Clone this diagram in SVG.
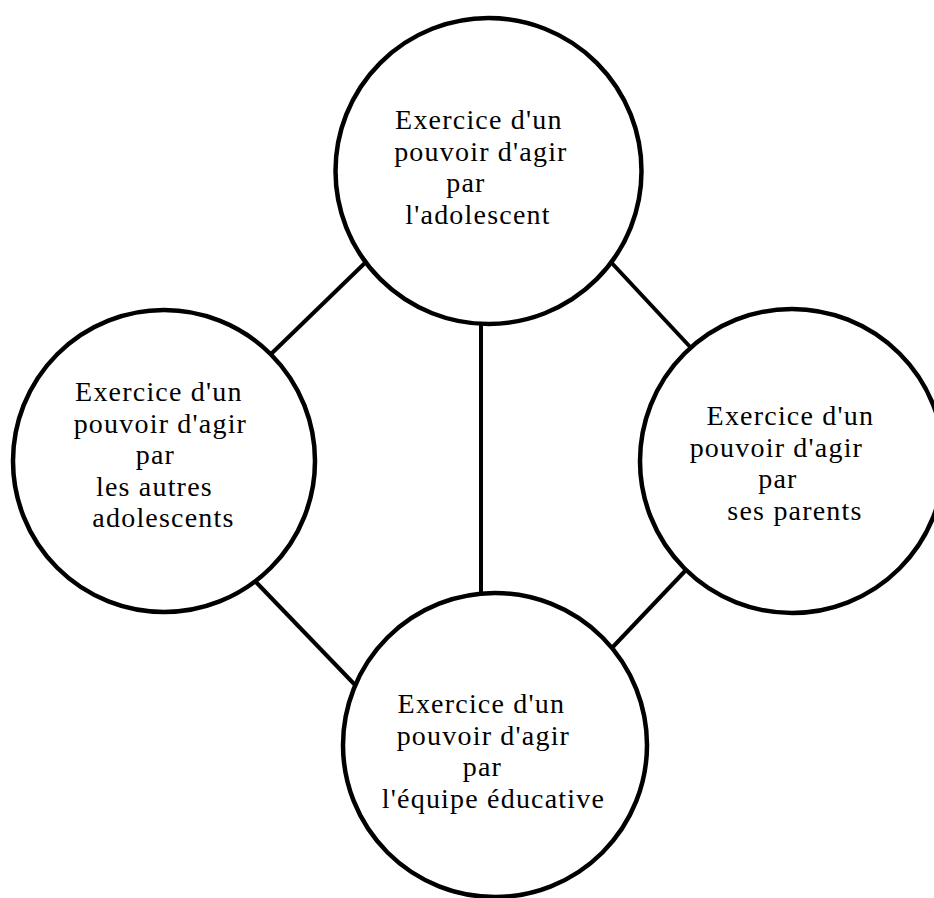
<svg xmlns="http://www.w3.org/2000/svg" width="934" height="898" viewBox="0 0 934 898">
  <style>
    .node { fill: #ffffff; stroke: #000000; stroke-width: 4.5; }
    .link { stroke: #000000; stroke-width: 4; fill: none; }
    .label { font-family: "Liberation Serif", "Times New Roman", serif; font-size: 28px; letter-spacing: 1.2px; fill: #000000; text-anchor: middle; }
  </style>
  <rect width="934" height="898" fill="#ffffff"/>

  <!-- connectors between the four circles -->
  <g id="connectors">
    <line class="link" x1="368" y1="260" x2="270" y2="355"/>
    <line class="link" x1="609" y1="260" x2="693" y2="350"/>
    <line class="link" x1="481" y1="322" x2="481" y2="596"/>
    <line class="link" x1="254" y1="580" x2="358" y2="688"/>
    <line class="link" x1="686" y1="570" x2="609" y2="651"/>
  </g>

  <!-- top: the adolescent -->
  <g id="node-adolescent">
    <circle class="node" cx="488.5" cy="171" r="153"/>
    <text class="label">
      <tspan x="483" y="129">Exercice d'un</tspan>
      <tspan x="485" y="160.5">pouvoir d'agir</tspan>
      <tspan x="470" y="192">par</tspan>
      <tspan x="478" y="223.5">l'adolescent</tspan>
    </text>
  </g>

  <!-- left: the other adolescents -->
  <g id="node-autres">
    <circle class="node" cx="164" cy="461" r="151"/>
    <text class="label">
      <tspan x="163" y="401">Exercice d'un</tspan>
      <tspan x="164.5" y="432.5">pouvoir d'agir</tspan>
      <tspan x="159.5" y="464">par</tspan>
      <tspan x="158.5" y="495.5">les autres</tspan>
      <tspan x="163.5" y="527">adolescents</tspan>
    </text>
  </g>

  <!-- right: the parents -->
  <g id="node-parents">
    <circle class="node" cx="792" cy="461" r="152"/>
    <text class="label">
      <tspan x="794.5" y="425">Exercice d'un</tspan>
      <tspan x="780.5" y="456.5">pouvoir d'agir</tspan>
      <tspan x="782" y="488">par</tspan>
      <tspan x="795" y="519.5">ses parents</tspan>
    </text>
  </g>

  <!-- bottom: the educational team -->
  <g id="node-equipe">
    <circle class="node" cx="495" cy="745" r="152"/>
    <text class="label">
      <tspan x="485.5" y="713">Exercice d'un</tspan>
      <tspan x="487.5" y="744.5">pouvoir d'agir</tspan>
      <tspan x="486.5" y="776">par</tspan>
      <tspan x="493.5" y="807.5">l'équipe éducative</tspan>
    </text>
  </g>
</svg>
